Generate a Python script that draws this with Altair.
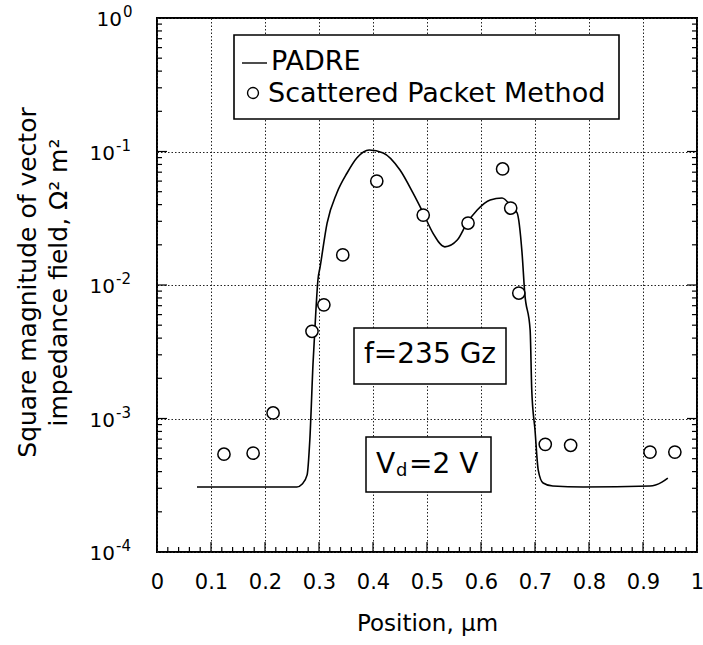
import json
import altair as alt
import pandas as pd

# ---------------- data ----------------
padre_x = [0.074, 0.259, 0.269, 0.278, 0.283, 0.289, 0.294, 0.298, 0.302, 0.315,
           0.333, 0.352, 0.370, 0.393, 0.419, 0.450, 0.474, 0.493, 0.511, 0.533,
           0.556, 0.574, 0.593, 0.617, 0.639, 0.657, 0.667, 0.676, 0.681, 0.691,
           0.694, 0.700, 0.706, 0.715, 0.733, 0.789, 0.913, 0.935, 0.946]
padre_y = [3.07e-4, 3.07e-4, 3.23e-4, 3.78e-4, 6.9e-4, 2.61e-3, 6.17e-3, 0.0109, 0.0136, 0.0291,
           0.0489, 0.0690, 0.0893, 0.1026, 0.0975, 0.0726, 0.0489, 0.0346, 0.0245, 0.0193,
           0.0217, 0.0291, 0.0365, 0.0434, 0.0449, 0.0384, 0.0346, 0.0174, 0.0087, 0.0046,
           0.00163, 8.2e-4, 4.11e-4, 3.29e-4, 3.12e-4, 3.07e-4, 3.12e-4, 3.34e-4, 3.58e-4]

spm_x = [0.124, 0.178, 0.215, 0.287, 0.309, 0.344, 0.407, 0.493,
         0.576, 0.640, 0.655, 0.670, 0.719, 0.766, 0.913, 0.959]
spm_y = [5.4e-4, 5.5e-4, 1.1e-3, 4.5e-3, 7.1e-3, 0.0168, 0.060, 0.0334,
         0.0291, 0.074, 0.0377, 0.0087, 6.4e-4, 6.3e-4, 5.6e-4, 5.6e-4]

x_tick_values = [0, 0.1, 0.2, 0.3, 0.4, 0.5, 0.6, 0.7, 0.8, 0.9, 1]
x_tick_labels = ["0", "0.1", "0.2", "0.3", "0.4", "0.5", "0.6", "0.7", "0.8", "0.9", "1"]
x_minor_ticks = [0.02, 0.04, 0.06, 0.08, 0.12, 0.14, 0.16, 0.18, 0.22, 0.24, 0.26, 0.28,
                 0.32, 0.34, 0.36, 0.38, 0.42, 0.44, 0.46, 0.48, 0.52, 0.54, 0.56, 0.58,
                 0.62, 0.64, 0.66, 0.68, 0.72, 0.74, 0.76, 0.78, 0.82, 0.84, 0.86, 0.88,
                 0.92, 0.94, 0.96, 0.98]
x_major_ticks = [0.1, 0.2, 0.3, 0.4, 0.5, 0.6, 0.7, 0.8, 0.9]

y_tick_values = [1e-4, 1e-3, 1e-2, 1e-1, 1]
y_tick_bases = ["10", "10", "10", "10", "10"]
y_tick_exps = ["-4", "-3", "-2", "-1", "0"]
y_minor_ticks = [k * d for d in [1e-4, 1e-3, 1e-2, 1e-1] for k in range(2, 10)]
y_major_ticks = [1e-3, 1e-2, 1e-1]

x_title = "Position, μm"
y_title = ["Square magnitude of vector", "impedance field, Ω² m²"]
legend_labels = ["PADRE", "Scattered Packet Method"]
note_freq = ["f=235 Gz"]
note_volt = ["V", "d", "=2 V"]

# ---------------- styling ----------------
FONT = "DejaVu Sans"
W, H = 540, 534

padre = pd.DataFrame({"x": padre_x, "y": padre_y})
spm = pd.DataFrame({"x": spm_x, "y": spm_y})
ylab = pd.DataFrame({"y": y_tick_values, "b": y_tick_bases, "e": y_tick_exps})

x_expr = f"{json.dumps(x_tick_labels)}[indexof({json.dumps(x_tick_values)}, datum.value)]"

xscale = alt.Scale(domain=[0, 1], nice=False, zero=False)
yscale = alt.Scale(type="log", domain=[1e-4, 1], nice=False)

xaxis = alt.Axis(values=x_tick_values, labelExpr=x_expr, ticks=False, domain=False,
                 grid=True, gridDash=[1.5, 2], gridColor="#222", gridWidth=1,
                 labelFont=FONT, labelFontSize=21, labelPadding=19, labelColor="black",
                 labelFlush=False, labelOverlap=False,
                 title=x_title, titleFont=FONT, titleFontSize=23, titleFontWeight="normal",
                 titleColor="black", titleY=78, titleBaseline="alphabetic")
yaxis = alt.Axis(values=y_tick_values, labels=False, ticks=False, domain=False,
                 grid=True, gridDash=[1.5, 2], gridColor="#222", gridWidth=1,
                 title=y_title, titleFont=FONT, titleFontSize=25, titleFontWeight="normal",
                 titleColor="black", titleX=-122, titleY=264, titleBaseline="alphabetic",
                 titleLineHeight=31, titleAlign="center")

X = alt.X("x:Q", scale=xscale, axis=xaxis)
Y = alt.Y("y:Q", scale=yscale, axis=yaxis)

curve = alt.Chart(padre).mark_line(color="black", strokeWidth=1.6, interpolate="monotone").encode(x=X, y=Y)
points = alt.Chart(spm).mark_point(shape="circle", filled=False, fill="white", fillOpacity=1,
                                   stroke="black", strokeWidth=1.5, size=150, opacity=1).encode(x=X, y=Y)

# y tick labels: base + superscript exponent
lab_style = dict(font=FONT, color="black", baseline="alphabetic")
ybase_neg = alt.Chart(ylab).transform_filter("datum.e != '0'").mark_text(
    align="right", fontSize=20, dy=8, **lab_style).encode(x=alt.value(-42), y=Y, text="b:N")
yexp_neg = alt.Chart(ylab).transform_filter("datum.e != '0'").mark_text(
    align="left", fontSize=15, dy=-1, **lab_style).encode(x=alt.value(-41), y=Y, text="e:N")
ybase_0 = alt.Chart(ylab).transform_filter("datum.e == '0'").mark_text(
    align="right", fontSize=20, dy=8, **lab_style).encode(x=alt.value(-35), y=Y, text="b:N")
yexp_0 = alt.Chart(ylab).transform_filter("datum.e == '0'").mark_text(
    align="left", fontSize=15, dy=-1, **lab_style).encode(x=alt.value(-34), y=Y, text="e:N")

# axis ticks (inward)
xmin_df = pd.DataFrame({"x": x_minor_ticks})
xmaj_df = pd.DataFrame({"x": x_major_ticks})
ymin_df = pd.DataFrame({"y": y_minor_ticks})
ymaj_df = pd.DataFrame({"y": y_major_ticks})

tick_style = dict(color="black", strokeWidth=1.2)
xt_minor = alt.Chart(xmin_df).mark_rule(**tick_style).encode(x=X, y=alt.value(H), y2=alt.value(H - 5))
xt_major = alt.Chart(xmaj_df).mark_rule(**tick_style).encode(x=X, y=alt.value(H), y2=alt.value(H - 10))
yt_minor_l = alt.Chart(ymin_df).mark_rule(**tick_style).encode(y=Y, x=alt.value(0), x2=alt.value(5))
yt_major_l = alt.Chart(ymaj_df).mark_rule(**tick_style).encode(y=Y, x=alt.value(0), x2=alt.value(10))
yt_minor_r = alt.Chart(ymin_df).mark_rule(**tick_style).encode(y=Y, x=alt.value(W), x2=alt.value(W - 5))
yt_major_r = alt.Chart(ymaj_df).mark_rule(**tick_style).encode(y=Y, x=alt.value(W), x2=alt.value(W - 10))

one = pd.DataFrame({"k": [0]})

# legend
leg_box = alt.Chart(one).mark_rect(fill="white", stroke="black", strokeWidth=1.6).encode(
    x=alt.value(77), x2=alt.value(462), y=alt.value(17), y2=alt.value(101))
leg_line = alt.Chart(one).mark_rule(color="black", strokeWidth=1.4).encode(
    x=alt.value(85), x2=alt.value(110), y=alt.value(45))
leg_pt = alt.Chart(one).mark_point(shape="circle", filled=False, stroke="black", strokeWidth=1.4,
                                   size=120, opacity=1).encode(x=alt.value(96), y=alt.value(75))
leg_t1 = alt.Chart(pd.DataFrame({"t": [legend_labels[0]]})).mark_text(
    font=FONT, fontSize=27, align="left", baseline="alphabetic", color="black").encode(
    x=alt.value(114), y=alt.value(52), text="t:N")
leg_t2 = alt.Chart(pd.DataFrame({"t": [legend_labels[1]]})).mark_text(
    font=FONT, fontSize=27, align="left", baseline="alphabetic", color="black").encode(
    x=alt.value(111), y=alt.value(84), text="t:N")

# annotation boxes
box1 = alt.Chart(one).mark_rect(fill="white", stroke="black", strokeWidth=1.5).encode(
    x=alt.value(197), x2=alt.value(349), y=alt.value(310), y2=alt.value(366))
txt1 = alt.Chart(pd.DataFrame({"t": note_freq})).mark_text(
    font=FONT, fontSize=28, align="center", baseline="alphabetic", color="black").encode(
    x=alt.value(273), y=alt.value(345), text="t:N")
box2 = alt.Chart(one).mark_rect(fill="white", stroke="black", strokeWidth=1.5).encode(
    x=alt.value(209), x2=alt.value(334), y=alt.value(419), y2=alt.value(474))
v1 = alt.Chart(pd.DataFrame({"t": [note_volt[0]]})).mark_text(
    font=FONT, fontSize=28, align="left", baseline="alphabetic", color="black").encode(
    x=alt.value(219), y=alt.value(455), text="t:N")
v2 = alt.Chart(pd.DataFrame({"t": [note_volt[1]]})).mark_text(
    font=FONT, fontSize=18, align="left", baseline="alphabetic", color="black").encode(
    x=alt.value(239), y=alt.value(458), text="t:N")
v3 = alt.Chart(pd.DataFrame({"t": [note_volt[2]]})).mark_text(
    font=FONT, fontSize=28, align="left", baseline="alphabetic", color="black").encode(
    x=alt.value(252), y=alt.value(455), text="t:N")

chart = alt.layer(
    curve, xt_minor, xt_major, yt_minor_l, yt_major_l, yt_minor_r, yt_major_r,
    ybase_neg, yexp_neg, ybase_0, yexp_0,
    leg_box, leg_line, leg_pt, leg_t1, leg_t2,
    box1, txt1, box2, v1, v2, v3,
    points,
).properties(
    width=W, height=H,
    autosize=alt.AutoSizeParams(type="none"),
    padding={"left": 157, "top": 18, "right": 6, "bottom": 93},
    background="white",
).configure_view(stroke="black", strokeWidth=2, clip=False)

chart.save("out.html", embed_options={"renderer": "svg", "actions": False})
